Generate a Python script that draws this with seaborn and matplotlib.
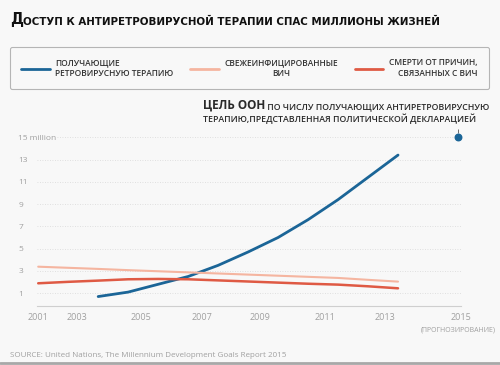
import pandas as pd
import seaborn as sns
import matplotlib.pyplot as plt
from matplotlib.lines import Line2D

# values in millions
art_years = [2003, 2004, 2005, 2006, 2007, 2008, 2009, 2010, 2011, 2012, 2013]
art_values = [0.7, 1.1, 1.8, 2.5, 3.5, 4.7, 6.0, 7.6, 9.4, 11.4, 13.4]

years = [2001, 2002, 2003, 2004, 2005, 2006, 2007, 2008, 2009, 2010, 2011, 2012, 2013]
new_infections = [3.38, 3.28, 3.18, 3.07, 2.97, 2.87, 2.77, 2.67, 2.57, 2.47, 2.37, 2.2, 2.04]
deaths = [1.89, 2.02, 2.13, 2.25, 2.28, 2.25, 2.15, 2.05, 1.95, 1.85, 1.77, 1.62, 1.44]

target_year = 2015
target_value = 15

series_names = ['ПОЛУЧАЮЩИЕ\nРЕТРОВИРУСНУЮ ТЕРАПИЮ',
                'СВЕЖЕИНФИЦИРОВАННЫЕ\nВИЧ',
                'СМЕРТИ ОТ ПРИЧИН,\nСВЯЗАННЫХ С ВИЧ']
colors = ['#1b6597', '#f5b5a0', '#df5a44']
widths = [2.0, 1.5, 1.8]

ytick_vals = [1, 3, 5, 7, 9, 11, 13, 15]
ytick_labels = ['1', '3', '5', '7', '9', '11', '13', '15 million']
xtick_labels = ['2001', '2003', '2005', '2007', '2009', '2011', '2013', '2015']
# label spots as they sit in the original graphic (not evenly spaced)
xtick_pos = [2001.0, 2002.28, 2004.43, 2006.45, 2008.41, 2010.56, 2012.55, 2015.1]

bg = '#f8f8f8'

df = pd.concat([
    pd.DataFrame({'year': art_years, 'value': art_values, 'series': series_names[0]}),
    pd.DataFrame({'year': years, 'value': new_infections, 'series': series_names[1]}),
    pd.DataFrame({'year': years, 'value': deaths, 'series': series_names[2]}),
])

sns.set_style('white')
plt.rcParams['font.family'] = ['Open Sans', 'DejaVu Sans']

fig = plt.figure(figsize=(5, 3.65), dpi=100, facecolor=bg)
ax = fig.add_axes([0.074, 0.1616, 0.848, 0.496], facecolor=bg)

for name, c, w in zip(series_names, colors, widths):
    sub = df[df['series'] == name]
    sns.lineplot(data=sub, x='year', y='value', color=c, linewidth=w, ax=ax,
                 legend=False, sort=False)

ax.scatter([target_year], [target_value], s=22, color=colors[0], zorder=5, clip_on=False)
ax.vlines(target_year, 15.35, 15.75, color='#555555', linewidth=0.6, clip_on=False)

ax.set_xlim(2000.96, 2015.0)
ax.set_ylim(-0.15, 16.1)
ax.set_xlabel('')
ax.set_ylabel('')

ax.set_yticks(ytick_vals)
ax.set_yticklabels(ytick_labels)
for lab in ax.get_yticklabels():
    lab.set_horizontalalignment('left')
    lab.set_bbox(dict(facecolor=bg, edgecolor='none', pad=1))
ax.tick_params(axis='y', length=0, pad=13.5, labelsize=6, labelcolor='#a0a0a0')

ax.set_xticks(xtick_pos)
ax.set_xticklabels(xtick_labels)
ax.tick_params(axis='x', length=0, pad=5, labelsize=6.5, labelcolor='#a0a0a0')
ax.set_xticks(range(2001, 2016), minor=True)
ax.tick_params(axis='x', which='minor', length=2, color='#dddddd', width=0.6)

ax.grid(axis='y', linestyle=(0, (1, 2)), color='#d8d8d8', linewidth=0.6)
for s in ['left', 'right', 'top']:
    ax.spines[s].set_visible(False)
ax.spines['bottom'].set_color('#cfcfcf')
ax.spines['bottom'].set_linewidth(0.8)

ax.text(2015.0, -0.135, '(ПРОГНОЗИРОВАНИЕ)', transform=ax.get_xaxis_transform(),
        ha='center', va='center', fontsize=5, color='#a0a0a0')

# title, small-caps look
t1 = fig.text(0.02, 0.925, 'Д', fontsize=10.5, fontweight='bold', color='#111111',
              family=['DejaVu Sans'], va='bottom')
fig.canvas.draw()
ax.annotate('ОСТУП К АНТИРЕТРОВИРУСНОЙ ТЕРАПИИ СПАС МИЛЛИОНЫ ЖИЗНЕЙ',
            xy=(1, 0), xycoords=t1, va='bottom', fontsize=7.4, fontweight='bold',
            color='#111111', family=['DejaVu Sans'], annotation_clip=False)

# legend box
handles = [Line2D([], [], color=c, linewidth=2) for c in colors]
leg = fig.legend(handles, series_names, ncol=3, loc='upper left',
                 bbox_to_anchor=(0.02, 0.759, 0.958, 0.112), mode='expand',
                 frameon=True, fancybox=True, framealpha=1, fontsize=6,
                 handlelength=3.4, handletextpad=0.7, borderpad=1.35,
                 borderaxespad=0, columnspacing=0.5)
leg.get_frame().set_edgecolor('#b5b5b5')
leg.get_frame().set_facecolor(bg)
leg.get_frame().set_linewidth(0.8)
for txt, al in zip(leg.get_texts(), ['left', 'center', 'right']):
    txt.set_multialignment(al)
    txt.set_color('#333333')
    txt.set_fontweight('semibold')

# UN target note
t2 = fig.text(0.406, 0.695, 'ЦЕЛЬ ООН', fontsize=8.5, fontweight='bold',
              color='#2a2a2a', va='bottom')
ax.annotate(' ПО ЧИСЛУ ПОЛУЧАЮЩИХ АНТИРЕТРОВИРУСНУЮ', xy=(1, 0), xycoords=t2,
            va='bottom', fontsize=6.3, fontweight='semibold', color='#2a2a2a',
            annotation_clip=False)
fig.text(0.406, 0.674, 'ТЕРАПИЮ,ПРЕДСТАВЛЕННАЯ ПОЛИТИЧЕСКОЙ ДЕКЛАРАЦИЕЙ',
         fontsize=6.3, fontweight='semibold', color='#2a2a2a', va='center')

fig.text(0.02, 0.027, 'SOURCE: United Nations, The Millennium Development Goals Report 2015',
         fontsize=5.75, color='#a0a0a0', va='center')
fig.add_artist(Line2D([0, 1], [0.006, 0.006], color='#a8a8a8', linewidth=2,
                      transform=fig.transFigure))

plt.savefig('out.png', dpi=100, facecolor=bg)
